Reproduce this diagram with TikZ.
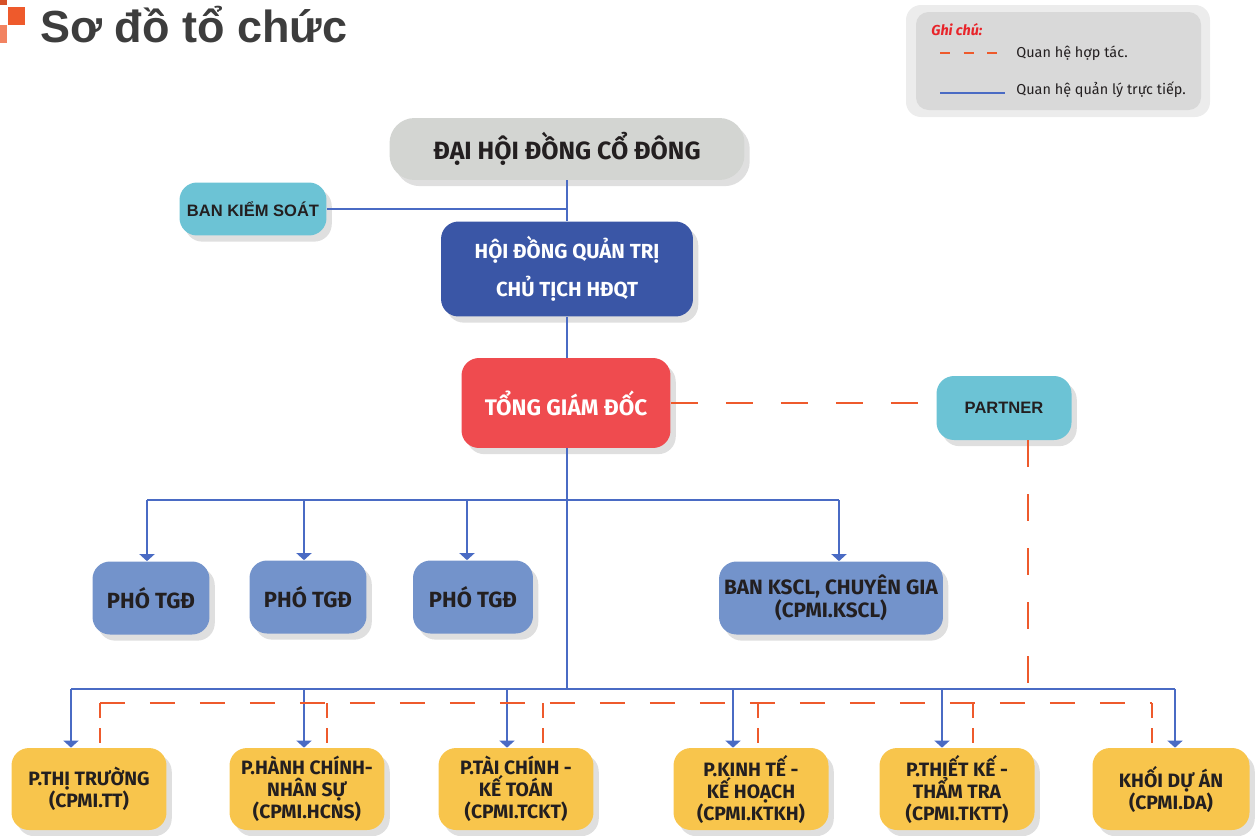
\documentclass[tikz,border=0pt]{standalone}
\usepackage{fontspec}
\setmainfont{Fira Sans}
\newfontfamily\arialfont{Liberation Sans}
\usepackage{xcolor}
\usetikzlibrary{arrows.meta}
\usetikzlibrary{positioning,shadows}

\definecolor{ink}{HTML}{231F20}
\definecolor{titlegray}{HTML}{3D3D3D}
\definecolor{meetgray}{HTML}{D3D5D2}
\definecolor{ctrlteal}{HTML}{6CC3D5}
\definecolor{boardblue}{HTML}{3A56A6}
\definecolor{ceored}{HTML}{EF4B4F}
\definecolor{depblue}{HTML}{7393CB}
\definecolor{deptyellow}{HTML}{F8C54C}
\definecolor{lineblue}{HTML}{4A6BC4}
\definecolor{dashorange}{HTML}{EE5A2C}
\definecolor{notered}{HTML}{E8242A}

\tikzset{
    unit/.style={
        rounded corners=0.35cm,
        align=center,
        text=ink,
        inner sep=2pt,
        drop shadow={shadow xshift=3pt, shadow yshift=-3.5pt, opacity=0.25}
    },
    topbox/.style={unit, fill=meetgray, rounded corners=0.5cm,
        minimum width=7.1cm, minimum height=1.24cm,
        font=\bfseries\fontsize{14.2}{16}\selectfont},
    boardbox/.style={unit, fill=boardblue, text=white,
        minimum width=5.04cm, minimum height=1.9cm,
        font=\bfseries\fontsize{11.6}{21.6}\selectfont},
    ceobox/.style={unit, fill=ceored, text=white,
        minimum width=4.18cm, minimum height=1.8cm,
        font=\bfseries\fontsize{12.8}{14}\selectfont},
    tealbox/.style={unit, fill=ctrlteal,
        font=\arialfont\bfseries\fontsize{9.4}{11}\selectfont},
    deputy/.style={unit, fill=depblue,
        minimum width=2.34cm, minimum height=1.46cm,
        font=\bfseries\fontsize{12.5}{12}\selectfont},
    dept/.style={unit, fill=deptyellow,
        minimum width=3.1cm, minimum height=1.64cm,
        font=\bfseries\fontsize{11}{12.5}\selectfont},
    mgmt/.style={draw=lineblue, line width=0.85pt},
    arr/.style={-{Triangle[width=0.3cm, length=0.14cm]}},
    coop/.style={draw=dashorange, line width=1pt, dash pattern=on 0.5cm off 0.5cm},
    note/.style={anchor=west, inner sep=0pt, text=ink, font=\fontsize{8.2}{9}\selectfont}
}

\begin{document}
\begin{tikzpicture}[x=0.02cm, y=-0.02cm]
    \useasboundingbox (0,0) rectangle (1256,835);

    % Title
    \fill[dashorange!90!black] (0,0) rectangle (7,5);
    \fill[dashorange] (8,7) rectangle (25,25);
    \fill[dashorange!75] (0,25) rectangle (7,43);
    \node[anchor=base west, inner sep=0pt, text=titlegray,
        font=\arialfont\bfseries\fontsize{25.6}{30}\selectfont] (title) at (40,42) {Sơ đồ tổ chức};

    % Legend
    \fill[gray!15, rounded corners=0.3cm] (906,5) rectangle (1210,117);
    \fill[gray!30, rounded corners=0.25cm] (916,12) rectangle (1201,110);
    \node[note, text=notered, font=\bfseries\itshape\fontsize{8.2}{9}\selectfont] (ghichu) at (931,30) {Ghi chú:};
    \coordinate (k1) at (940,53);
    \coordinate (k2) at (1003,53);
    \coordinate (k3) at (940,93);
    \coordinate (k4) at (1005,93);
    \node[note] (hoptac) at (1016,53) {Quan hệ hợp tác.};
    \node[note] (quanly) at (1016,90) {Quan hệ quản lý trực tiếp.};
    \draw[draw=dashorange, line width=0.8pt, dash pattern=on 0.2cm off 0.27cm] (k1) -- (k2);
    \draw[mgmt, line width=0.7pt] (k3) -- (k4);

    % Boxes - top
    \node[topbox] (dh) at (567,149) {ĐẠI HỘI ĐỒNG CỔ ĐÔNG};
    \node[tealbox, minimum width=2.94cm, minimum height=1.06cm] (bks) at (253,209) {BAN KIỂM SOÁT};
    \node[boardbox] (hdqt) at (567,269) {HỘI ĐỒNG QUẢN TRỊ\\CHỦ TỊCH HĐQT};
    \node[ceobox] (tgd) at (566,403) {TỔNG GIÁM ĐỐC};
    \node[tealbox, minimum width=2.7cm, minimum height=1.28cm] (partner) at (1004,408) {PARTNER};

    % Boxes - middle
    \node[deputy] (pho1) at (151,598) {PHÓ TGĐ};
    \node[deputy] (pho2) at (308,597) {PHÓ TGĐ};
    \node[deputy, minimum width=2.4cm] (pho3) at (473,597) {PHÓ TGĐ};
    \node[deputy, minimum width=4.48cm, font=\bfseries\fontsize{11.8}{12}\selectfont] (kscl) at (831,598)
        {BAN KSCL, CHUYÊN GIA\\(CPMI.KSCL)};

    % Boxes - departments
    \node[dept] (tt) at (89,789) {P.THỊ TRƯỜNG\\(CPMI.TT)};
    \node[dept] (hcns) at (307,789) {P.HÀNH CHÍNH-\\NHÂN SỰ\\(CPMI.HCNS)};
    \node[dept] (tckt) at (516,789) {P.TÀI CHÍNH -\\KẾ TOÁN\\(CPMI.TCKT)};
    \node[dept] (ktkh) at (751,789) {P.KINH TẾ -\\KẾ HOẠCH\\(CPMI.KTKH)};
    \node[dept] (tktt) at (957,789) {P.THIẾT KẾ -\\THẨM TRA\\(CPMI.TKTT)};
    \node[dept, minimum width=3.14cm] (da) at (1171,789) {KHỐI DỰ ÁN\\(CPMI.DA)};

    % Bus points
    \coordinate (mL) at (147,500);
    \coordinate (mR) at (839,500);
    \coordinate (bL) at (71,689);
    \coordinate (bR) at (1175,689);
    \coordinate (cL) at (100,703);
    \coordinate (cR) at (1152,703);
    \coordinate (pd) at (1028,703);

    % Direct management
    \draw[mgmt] (dh.south) -- (hdqt.north);
    \draw[mgmt] (bks.east) -- (bks.east -| dh.south);
    \draw[mgmt] (hdqt.south) -- (hdqt.south |- tgd.north);
    \draw[mgmt] (hdqt.south |- tgd.south) -- (hdqt.south |- bL);
    \draw[mgmt] (mL) -- (mR);
    \draw[mgmt] (bL) -- (bR);
    \foreach \x/\n in {147/pho1, 304/pho2, 467/pho3, 839/kscl} {
        \coordinate (d\n) at (\x,500);
        \draw[mgmt, arr] (d\n) -- (d\n |- \n.north);
    }
    \foreach \x/\n in {71/tt, 304/hcns, 507/tckt, 733/ktkh, 942/tktt, 1175/da} {
        \coordinate (d\n) at (\x,689);
        \draw[mgmt, arr] (d\n) -- (d\n |- \n.north);
    }

    % Cooperation
    \draw[coop, line width=1.2pt, dash pattern=on 0.55cm off 0.55cm] (tgd.east) -- (tgd.east -| partner.west);
    \draw[coop, dash pattern=on 0.54cm off 0.54cm] (partner.south -| pd) -- (pd);
    \draw[coop] (cL) -- (cR);
    \foreach \x/\n in {100/tt, 327/hcns, 543/tckt, 758/ktkh, 973/tktt, 1152/da} {
        \coordinate (e\n) at (\x,703);
        \draw[coop, dash pattern=on 0.3cm off 0.2cm] (e\n) -- (e\n |- \n.north);
    }
\end{tikzpicture}
\end{document}
